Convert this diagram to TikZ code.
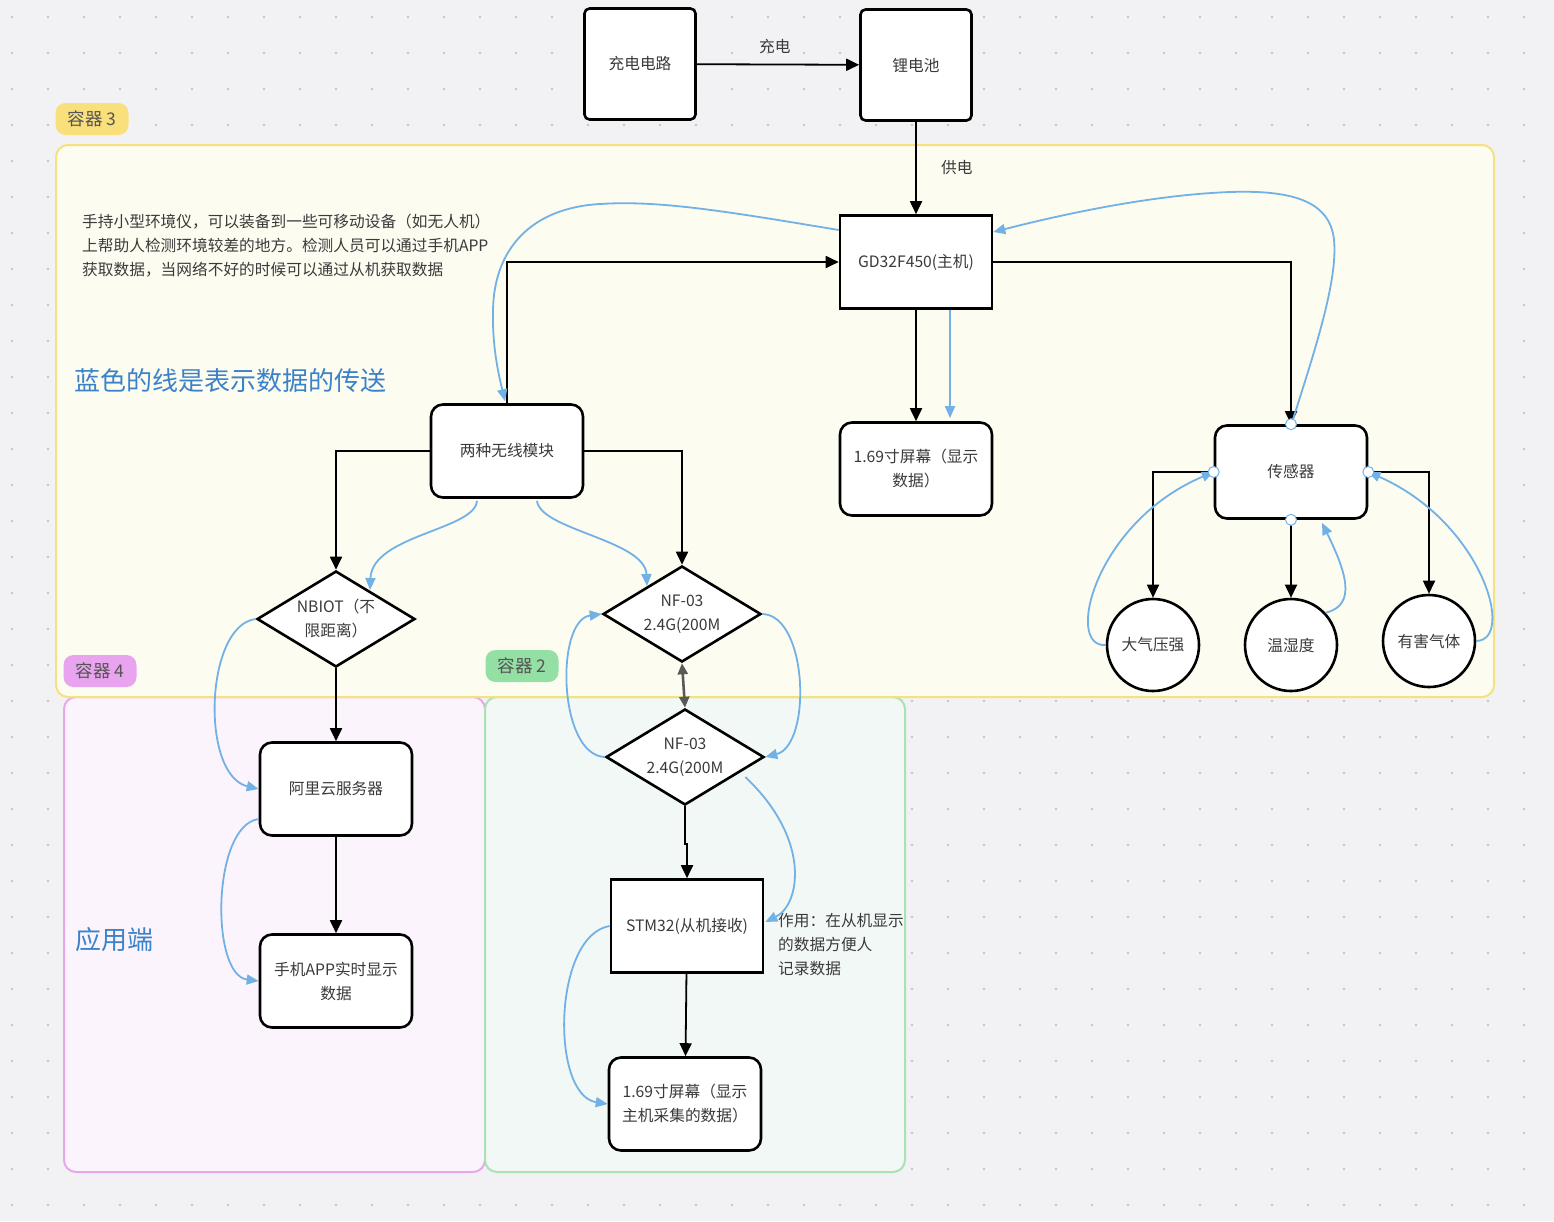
\documentclass[tikz,border=0pt]{standalone}
\usepackage{fontspec}
\setmainfont{Noto Sans CJK SC}
\usetikzlibrary{arrows.meta, shapes.geometric, calc}
\definecolor{bggray}{HTML}{F2F2F5}
\definecolor{dotgray}{HTML}{C4C4CC}
\definecolor{txtgray}{HTML}{3A3A3A}
\definecolor{lineblue}{HTML}{72B1E6}
\definecolor{titleblue}{HTML}{3C82C8}
\definecolor{yelline}{HTML}{F5E27E}
\definecolor{yelfill}{HTML}{FDFCF1}
\definecolor{yeltag}{HTML}{FAE07C}
\definecolor{pinkline}{HTML}{E6A8E8}
\definecolor{pinkfill}{HTML}{FCF4FC}
\definecolor{pinktag}{HTML}{E8A4EE}
\definecolor{greenline}{HTML}{ABE2B3}
\definecolor{greenfill}{HTML}{F2F8F5}
\definecolor{greentag}{HTML}{93DFA4}
\definecolor{tagtext}{HTML}{555555}

\begin{document}
\begin{tikzpicture}[x=1pt, y=-1pt,
  chipbox/.style={rectangle, draw=black, fill=white, line width=2.6pt, minimum width=152pt, minimum height=93pt, font=\fontsize{15.7}{24}\selectfont, text=txtgray, align=center},
  softbox/.style={chipbox, rounded corners=12pt},
  squarebox/.style={chipbox, minimum width=111pt, minimum height=111pt, rounded corners=5pt},
  decision/.style={diamond, draw=black, fill=white, line width=2.6pt, minimum width=158pt, minimum height=96pt, aspect=1.65, inner sep=0pt, font=\fontsize{15.7}{24}\selectfont, text=txtgray, align=center},
  probe/.style={circle, draw=black, fill=white, line width=2.6pt, minimum size=92pt, font=\fontsize{15.7}{24}\selectfont, text=txtgray},
  port/.style={circle, draw=lineblue, fill=white, line width=1pt, inner sep=0pt, minimum size=11pt},
  arr/.style={-{Triangle[length=13pt,width=12pt]}, line width=1.8pt, black},
  both/.style={{Triangle[length=11pt,width=10pt]}-{Triangle[length=11pt,width=10pt]}, line width=2.6pt, black!65},
  flow/.style={-{Triangle[length=12pt,width=10pt]}, line width=1.8pt, lineblue},
  frame/.style={draw=#1line, fill=#1fill, line width=2pt, rounded corners=12pt},
  pill/.style={fill=#1tag, rounded corners=10pt, minimum width=73pt, minimum height=32pt, font=\fontsize{17.5}{17.5}\selectfont, text=tagtext},
  note/.style={font=\fontsize{15.7}{24}\selectfont, text=txtgray, align=left, inner sep=0pt},
  bignote/.style={font=\fontsize{26}{30}\selectfont, text=titleblue, inner sep=0pt},
]
  % canvas with dot grid
  \fill[bggray] (0,0) rectangle (1554,1221);
  \useasboundingbox (0,0) rectangle (1554,1221);
  \foreach \x in {12,48,...,1554}
    \foreach \y in {17,53,...,1221}
      \fill[dotgray] (\x,\y) circle (1.3pt);

  % containers
  \draw[frame=pink] (64,697) rectangle (485,1172);
  \draw[frame=green] (485,697) rectangle (905,1172);
  \draw[frame=yel] (56,145) rectangle (1494,697);
  \node[pill=yel] (tag3) at (92,119) {容器 3};
  \node[pill=pink] (tag4) at (100,671) {容器 4};
  \node[pill=green] (tag2) at (522,666) {容器 2};

  % notes
  \node[note, anchor=west] (intro) at (82,246) {手持小型环境仪，可以装备到一些可移动设备（如无人机）\\上帮助人检测环境较差的地方。检测人员可以通过手机APP\\获取数据，当网络不好的时候可以通过从机获取数据};
  \node[bignote, anchor=west] (legend) at (74,381) {蓝色的线是表示数据的传送};
  \node[bignote, anchor=west] (appside) at (75,940) {应用端};
  \node[note, anchor=west] (usage) at (778,945) {作用：在从机显示\\的数据方便人\\记录数据};

  % power
  \node[squarebox] (charger) at (640,64) {充电电路};
  \node[squarebox] (battery) at (916,65) {锂电池};

  % host side
  \node[chipbox] (host) at (916,262) {GD32F450(主机)};
  \node[softbox] (radio) at (507,451) {两种无线模块};
  \node[softbox] (hostlcd) at (916,469) {1.69寸屏幕（显示\\数据）};
  \node[softbox] (sensor) at (1291,472) {传感器};
  \node[probe] (press) at (1153,645) {大气压强};
  \node[probe] (humid) at (1291,645) {温湿度};
  \node[probe] (gas) at (1429,641) {有害气体};
  \node[decision] (nbiot) at (336,619) {NBIOT（不\\限距离）};
  \node[decision] (nftx) at (682,614) {NF-03\\2.4G(200M};

  % application side
  \node[softbox] (cloud) at (336,789) {阿里云服务器};
  \node[softbox] (phone) at (336,981) {手机APP实时显示\\数据};

  % slave side
  \node[decision] (nfrx) at (685,757) {NF-03\\2.4G(200M};
  \node[chipbox] (slave) at (687,926) {STM32(从机接收)};
  \node[softbox] (slavelcd) at (685,1104) {1.69寸屏幕（显示\\主机采集的数据）};

  % black connectors
  \draw[arr] (charger) -- node[pos=0.48, above=6pt, font=\fontsize{15.7}{18}\selectfont, text=txtgray] (chglbl) {充电} (battery);
  \draw[arr] (battery) -- node[right=21pt, font=\fontsize{15.7}{18}\selectfont, text=txtgray] (pwrlbl) {供电} (host);
  \draw[arr] (radio.north) |- (host.west);
  \draw[arr] (host.east) -| (sensor.north);
  \draw[arr] (host) -- (hostlcd);
  \draw[arr] (radio.west) -| (nbiot.north);
  \draw[arr] (radio.east) -| (nftx.north);
  \draw[arr] (nbiot) -- (cloud);
  \draw[arr] (cloud) -- (phone);
  \draw[both] (nftx.south) -- (nfrx.north);
  \draw[arr] (nfrx.south) -- ++(0,38) -| (slave.north);
  \draw[arr] (slave) -- (slavelcd);
  \draw[arr] (sensor.west) -| (press.north);
  \draw[arr] (sensor) -- (humid);
  \draw[arr] (sensor.east) -| (gas.north);

  % blue data connectors
  \draw[flow] ($(host.west)+(0,-32)$) .. controls (730,212) and (660,200) .. (600,204)
    .. controls (530,208) and (494,250) .. (493,310)
    .. controls (492,350) and (500,380) .. ($(radio.north)+(-2,-2)$);
  \draw[flow] ($(sensor.north)+(2,-5)$) .. controls (1315,350) and (1338,280) .. (1334,240)
    .. controls (1330,200) and (1290,190) .. (1230,192)
    .. controls (1150,195) and (1060,215) .. ($(host.east)+(0,-30)$);
  \draw[flow] ($(host.south)+(34,0)$) -- ($(hostlcd.north)+(34,-3)$);
  \draw[flow] ($(radio.south)+(-30,2)$) .. controls (475,530) and (372,535) .. (370,590);
  \draw[flow] ($(radio.south)+(30,2)$) .. controls (540,530) and (645,540) .. (647,586);
  \draw[flow] (nbiot.west) .. controls (205,625) and (200,775) .. (cloud.west);
  \draw[flow] ($(cloud.west)+(0,30)$) .. controls (212,825) and (210,975) .. (phone.west);
  \draw[flow] (nftx.east) .. controls (808,615) and (812,745) .. (nfrx.east);
  \draw[flow] (nfrx.west) .. controls (558,755) and (555,620) .. (nftx.west);
  \draw[flow] ($(nfrx.east)+(-20,20)$) .. controls (812,840) and (800,905) .. ($(slave.east)+(1,-4)$);
  \draw[flow] (slave.west) .. controls (553,935) and (550,1095) .. (slavelcd.west);
  \draw[flow] (press.west) .. controls (1064,648) and (1095,522) .. (sensor.west);
  \draw[flow] (humid.43) .. controls (1358,605) and (1345,570) .. ($(sensor.south)+(31,3)$);
  \draw[flow] (gas.east) .. controls (1516,640) and (1482,522) .. (sensor.east);

  % ports on the sensor box
  \node[port] (pn) at (sensor.north) {};
  \node[port] (pw) at (sensor.west) {};
  \node[port] (pe) at (sensor.east) {};
  \node[port] (ps) at (sensor.south) {};
\end{tikzpicture}
\end{document}
